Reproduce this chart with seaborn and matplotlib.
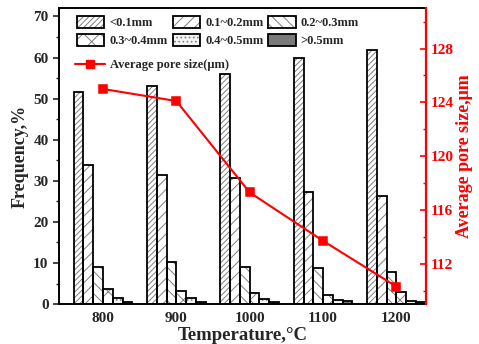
import numpy as np
import pandas as pd
import matplotlib
matplotlib.use("Agg")
import matplotlib.pyplot as plt
import matplotlib.patches as mpatches
from matplotlib.lines import Line2D
from matplotlib.ticker import MultipleLocator
import seaborn as sns

# Sintering temperature (°C) and pore-size classes
temps = [800, 900, 1000, 1100, 1200]
size_classes = ['<0.1mm', '0.1~0.2mm', '0.2~0.3mm', '0.3~0.4mm', '0.4~0.5mm', '>0.5mm']

# Frequency (%) of each pore-size class at each temperature
freq_lt01 = [51.6, 53.0, 56.0, 59.8, 61.8]
freq_01_02 = [33.8, 31.4, 30.6, 27.3, 26.3]
freq_02_03 = [9.0, 10.3, 9.0, 8.7, 7.7]
freq_03_04 = [3.7, 3.1, 2.8, 2.1, 2.9]
freq_04_05 = [1.4, 1.5, 1.3, 1.1, 0.8]
freq_gt05 = [0.6, 0.6, 0.5, 0.7, 0.5]

# Average pore size (μm)
avg_pore = [125.0, 124.1, 117.3, 113.7, 110.3]

freq_table = [freq_lt01, freq_01_02, freq_02_03, freq_03_04, freq_04_05, freq_gt05]
rows = []
for cls, vals in zip(size_classes, freq_table):
    for t, v in zip(temps, vals):
        rows.append({"Temperature": t, "Class": cls, "Frequency": v})
df = pd.DataFrame(rows)

sns.set_style("ticks")
plt.rcParams["font.family"] = ["Liberation Serif", "DejaVu Serif"]
plt.rcParams["font.weight"] = "bold"
plt.rcParams["axes.labelweight"] = "bold"
plt.rcParams["hatch.linewidth"] = 0.7

fig = plt.figure(figsize=(4.79, 3.44), dpi=100)
ax = fig.add_axes([0.123, 0.116, 0.766, 0.860])

sns.barplot(data=df, x="Temperature", y="Frequency", hue="Class",
            hue_order=size_classes, order=temps, ax=ax, width=0.8,
            edgecolor="black", linewidth=1.3, legend=False)

styles = [
    ("white", "//////"),
    ("white", "///"),
    ("white", "\\\\\\"),
    ("white", "xx"),
    ("#f4f4f4", "...."),
    ("#7a7a7a", ""),
]
hatch_gray = "#7f7f7f"
outline_kw = dict(fill=False, edgecolor="black", linewidth=1.3)

# hatch lines in gray (a patch's hatch takes its edge colour), black outline on top
for cont, (fc, hatch) in zip(ax.containers, styles):
    for bar in cont:
        bar.set_facecolor(fc)
        bar.set_hatch(hatch)
        bar.set_edgecolor(hatch_gray)
        bar.set_linewidth(0)
        ax.add_patch(mpatches.Rectangle(bar.get_xy(), bar.get_width(), bar.get_height(),
                                        zorder=bar.get_zorder() + 0.1, **outline_kw))

ax.set_xlim(-0.6, 4.4)
ax.set_ylim(0, 72)
ax.yaxis.set_major_locator(MultipleLocator(10))
ax.yaxis.set_minor_locator(MultipleLocator(5))
ax.tick_params(axis="y", which="major", direction="out", length=4, width=1.2, labelsize=11)
ax.tick_params(axis="y", which="minor", direction="out", length=2, width=1.0)
ax.tick_params(axis="x", length=0, labelsize=11, pad=6)
ax.set_xlabel("Temperature,°C", fontsize=13.5, fontweight="bold", labelpad=1)
ax.set_ylabel("Frequency,%", fontsize=13, fontweight="bold", labelpad=3)
for lbl in ax.get_xticklabels() + ax.get_yticklabels():
    lbl.set_fontweight("bold")
for side in ["left", "top", "bottom"]:
    ax.spines[side].set_linewidth(1.4)
    ax.spines[side].set_color("black")

# legend handles: hatched swatch with a black frame, filled row by row
swatches = []
for fc, hatch in styles:
    fill = mpatches.Patch(facecolor=fc, hatch=hatch, edgecolor=hatch_gray, linewidth=0)
    frame = mpatches.Patch(**outline_kw)
    swatches.append((fill, frame))
order = [0, 3, 1, 4, 2, 5]
leg1 = ax.legend(handles=[swatches[i] for i in order],
                 labels=[size_classes[i] for i in order], ncol=3,
                 loc="upper left", bbox_to_anchor=(0.018, 1.012), frameon=False,
                 handlelength=2.2, handleheight=1.1, columnspacing=0.4,
                 handletextpad=0.4, labelspacing=0.4,
                 prop={"size": 9, "weight": "bold"})

# Average pore size on a secondary axis
ax2 = ax.twinx()
sns.pointplot(x=temps, y=avg_pore, order=temps, ax=ax2, color="red",
              markers="s", markersize=6, linewidth=1.5, native_scale=False)
ax2.set_xlim(-0.6, 4.4)
ax2.set_ylim(109, 131)
ax2.yaxis.set_minor_locator(MultipleLocator(2))
ax2.set_yticks([112, 116, 120, 124, 128])
ax2.tick_params(axis="y", which="major", direction="in", length=4, width=1.2,
                colors="red", labelsize=11)
ax2.tick_params(axis="y", which="minor", direction="in", length=2, width=1.0, colors="red")
ax2.set_ylabel("Average pore size,μm", color="red", fontsize=13, fontweight="bold", labelpad=2)
for lbl in ax2.get_yticklabels():
    lbl.set_fontweight("bold")
ax2.spines["right"].set_color("red")
ax2.spines["right"].set_linewidth(1.6)
for side in ["left", "top", "bottom"]:
    ax2.spines[side].set_visible(False)

line_handle = Line2D([], [], color="red", marker="s", markersize=6, linewidth=1.5)
ax2.legend(handles=[line_handle], labels=["Average pore size(μm)"], loc="upper left",
           bbox_to_anchor=(0.012, 0.865), frameon=False, handlelength=2.4,
           handletextpad=0.4, prop={"size": 9, "weight": "bold"})

fig.savefig("out.png", dpi=100)
